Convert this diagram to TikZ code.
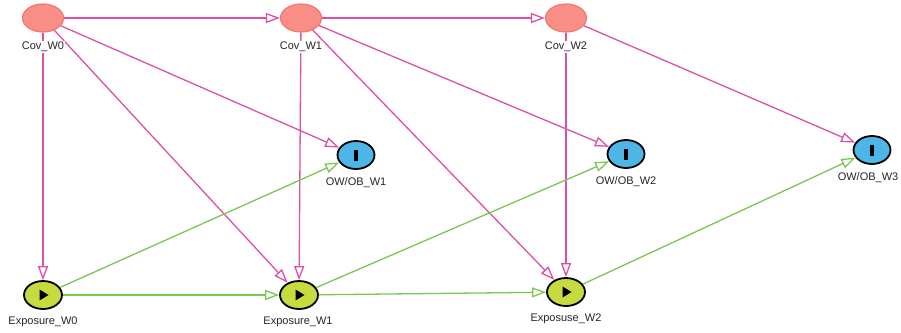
\documentclass[tikz,border=0pt]{standalone}
\usepackage{fontspec}
\setmainfont{Liberation Sans}
\usetikzlibrary{arrows.meta,shapes.geometric}
\definecolor{covfill}{HTML}{F98E86}
\definecolor{covline}{HTML}{F07A72}
\definecolor{expfill}{HTML}{C5DB3F}
\definecolor{outfill}{HTML}{4DB6E6}
\definecolor{pinkedge}{HTML}{DE4FA6}
\definecolor{greenedge}{HTML}{7CC651}
\begin{document}
\begin{tikzpicture}[x=1pt,y=-1pt,
  covnode/.style={ellipse,draw=covline,fill=covfill,line width=1.2pt,minimum width=41pt,minimum height=28pt,inner sep=0pt},
  expnode/.style={ellipse,draw=black,fill=expfill,line width=1.8pt,minimum width=38pt,minimum height=28pt,inner sep=0pt},
  outnode/.style={ellipse,draw=black,fill=outfill,line width=1.8pt,minimum width=37pt,minimum height=28pt,inner sep=0pt},
  lbl/.style={fill=white,inner sep=1pt,font=\fontsize{11}{13}\selectfont,text=black!85},
  pinkarrow/.style={draw=pinkedge,line width=1.3pt,-{Triangle[open,length=14pt,width=10pt,line width=1.3pt]}},
  greenarrow/.style={draw=greenedge,line width=1.3pt,-{Triangle[open,length=14pt,width=10pt,line width=1.3pt]}},
  playmark/.style={fill=black},
]
\useasboundingbox (0,0) rectangle (901,332);
% variable nodes
\node[covnode] (c0) at (43,18) {};
\node[covnode] (c1) at (301,18) {};
\node[covnode] (c2) at (566,18) {};
\node[outnode] (o1) at (356,155) {\rule{3.5pt}{11pt}};
\node[outnode] (o2) at (626,154) {\rule{3.5pt}{11pt}};
\node[outnode] (o3) at (872,150) {\rule{3.5pt}{11pt}};
\node[expnode] (e0) at (43,295) {};
\node[expnode] (e1) at (299,295) {};
\node[expnode] (e2) at (566,292) {};
% play marks inside the exposure nodes
\foreach \n in {e0,e1,e2}
  \fill[playmark] ([shift={(-3.5,-5.5)}]\n.center) -- ++(9,5.5) -- ++(-9,5.5) -- cycle;
% covariate edges
\draw[pinkarrow] (c0) -- (c1);
\draw[pinkarrow] (c1) -- (c2);
\draw[pinkarrow] (c0) -- (o1);
\draw[pinkarrow] (c0) -- (e0);
\draw[pinkarrow] (c0) -- (e1);
\draw[pinkarrow] (c1) -- (o2);
\draw[pinkarrow] (c1) -- (e1);
\draw[pinkarrow] (c1) -- (e2);
\draw[pinkarrow] (c2) -- (o3);
\draw[pinkarrow] (c2) -- (e2);
% exposure edges
\draw[greenarrow] (e0) -- (o1);
\draw[greenarrow] (e0) -- (e1);
\draw[greenarrow] (e1) -- (o2);
\draw[greenarrow] (e1) -- (e2);
\draw[greenarrow] (e2) -- (o3);
% labels
\node[lbl] (lc0) at (43,47) {Cov\_W0};
\node[lbl] (lc1) at (301,47) {Cov\_W1};
\node[lbl] (lc2) at (566,47) {Cov\_W2};
\node[lbl] (lo1) at (356,183) {OW/OB\_W1};
\node[lbl] (lo2) at (626,182) {OW/OB\_W2};
\node[lbl] (lo3) at (868,178) {OW/OB\_W3};
\node[lbl] (le0) at (43,322) {Exposure\_W0};
\node[lbl] (le1) at (298,322) {Exposure\_W1};
\node[lbl] (le2) at (566,319) {Exposuse\_W2};
\end{tikzpicture}
\end{document}
